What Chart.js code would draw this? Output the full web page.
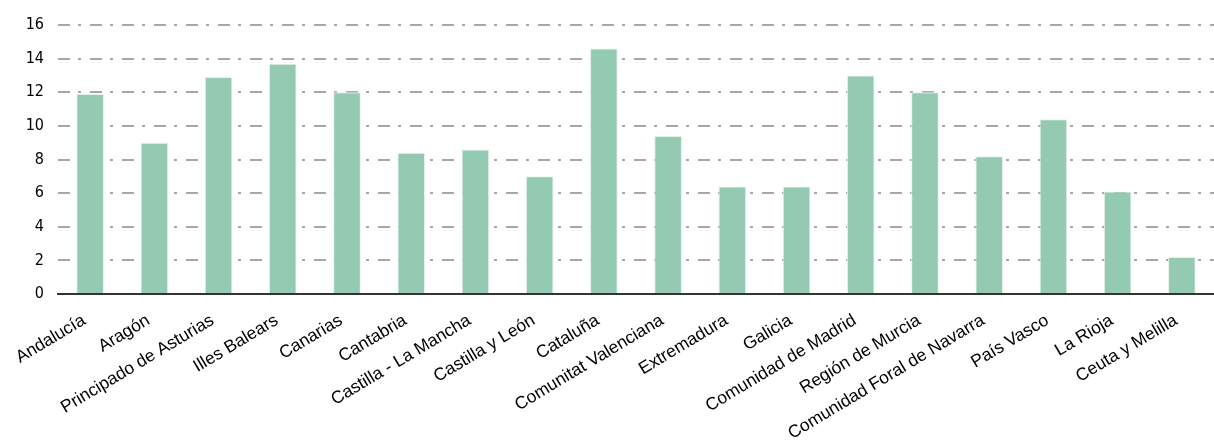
<!DOCTYPE html>
<html>
<head>
<meta charset="utf-8">
<script src="https://cdn.jsdelivr.net/npm/chart.js@4"></script>
<style>
  html, body { margin: 0; padding: 0; background: #fff; }
  #wrap { width: 1214px; height: 448px; }
</style>
</head>
<body>
<div id="wrap"><canvas id="chart" width="1214" height="448"></canvas></div>
<script>
// regions and values
var regions = ["Andalucía", "Aragón", "Principado de Asturias", "Illes Balears", "Canarias",
  "Cantabria", "Castilla - La Mancha", "Castilla y León", "Cataluña", "Comunitat Valenciana",
  "Extremadura", "Galicia", "Comunidad de Madrid", "Región de Murcia",
  "Comunidad Foral de Navarra", "País Vasco", "La Rioja", "Ceuta y Melilla"];
var values = [11.9, 9.0, 12.9, 13.7, 12.0, 8.4, 8.6, 7.0, 14.6, 9.4,
  6.4, 6.4, 13.0, 12.0, 8.2, 10.4, 6.1, 2.2];
var yTicks = [0, 2, 4, 6, 8, 10, 12, 14, 16];

Chart.defaults.font.family = "'Liberation Sans', Arial, sans-serif";
Chart.defaults.color = "#000";

new Chart(document.getElementById("chart"), {
  type: "bar",
  data: {
    labels: regions,
    datasets: [{
      data: values,
      backgroundColor: "#93cab1",
      borderColor: "#e3f2ea",
      borderWidth: 1,
      barPercentage: 0.43,
      categoryPercentage: 1
    }]
  },
  options: {
    responsive: false,
    animation: false,
    layout: { padding: { top: 25, right: 0, left: 0, bottom: 0 } },
    plugins: { legend: { display: false }, tooltip: { enabled: false } },
    scales: {
      x: {
        grid: { display: false, drawTicks: false },
        border: { display: true, color: "#333", width: 2 },
        ticks: {
          minRotation: 31, maxRotation: 31, autoSkip: false, padding: 16,
          labelOffset: -6,
          font: { size: 17.5 }, color: "#000"
        },
        afterFit: function (s) { s.height = 154; }
      },
      y: {
        min: 0, max: 16,
        afterBuildTicks: function (s) { s.ticks = yTicks.map(function (v) { return { value: v }; }); },
        grid: { color: "#a8a8a8", lineWidth: 2, drawTicks: false },
        border: { display: false, dash: [12, 8, 3, 9] },
        ticks: {
          padding: 14,
          font: { family: "'Liberation Sans Narrow', 'DejaVu Sans Condensed', sans-serif", size: 16 },
          color: "#000"
        },
        afterFit: function (s) { s.width = 58; }
      }
    }
  }
});
</script>
</body>
</html>
